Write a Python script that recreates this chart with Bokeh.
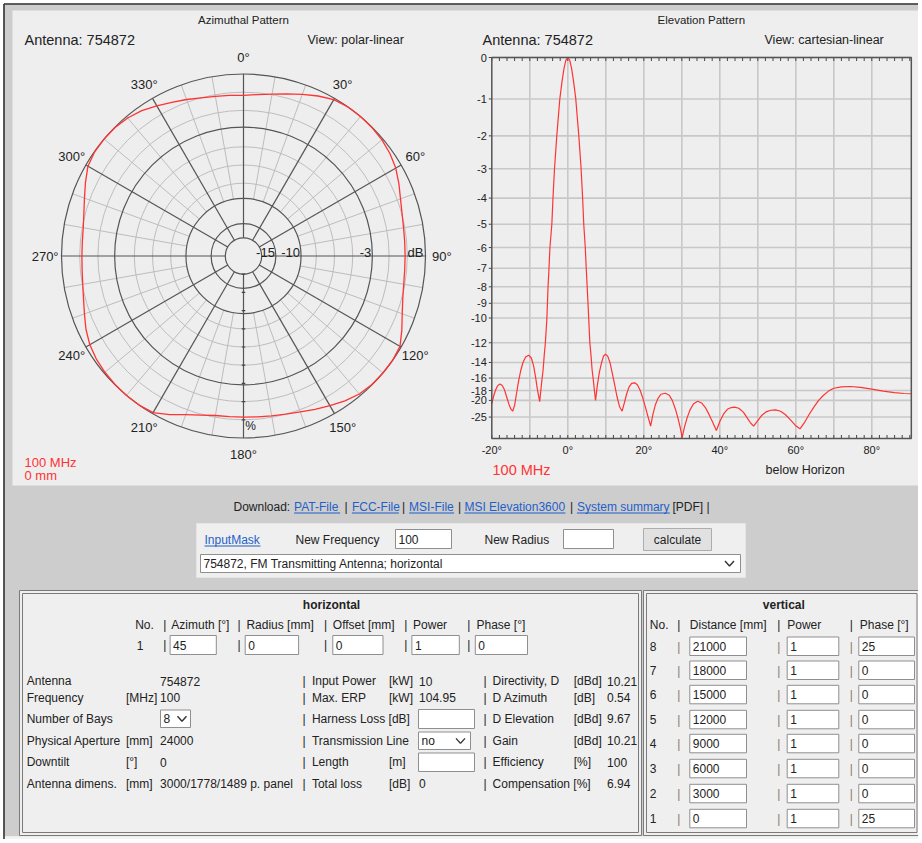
import numpy as np
from collections import defaultdict
from bokeh.plotting import figure
from bokeh.models import Range1d
from bokeh.embed import file_html
from bokeh.resources import INLINE
from bokeh.core.properties import value

FONT = "Liberation Sans"
PANEL = "#eeeeee"
GRAY = "#cdcdcd"
RED = "#ff3333"
LINK = "#1f5fc8"
INK = "#222222"

# ---------------- data: azimuthal pattern (relative field, linear) ----------------
az_angle = list(range(0, 361, 5))
az_field = [0.883, 0.89, 0.903, 0.922, 0.945, 0.97, 0.992, 1.0, 1.0, 0.998, 0.993, 0.982, 0.966,
            0.942, 0.918, 0.902, 0.893, 0.889, 0.888, 0.889, 0.894, 0.906, 0.928, 0.96, 0.993,
            1.0, 1.0, 0.998, 0.99, 0.972, 0.95, 0.93, 0.912, 0.9, 0.892, 0.887, 0.885, 0.886,
            0.89, 0.905, 0.928, 0.962, 0.994, 1.0, 1.0, 0.998, 0.994, 0.987, 0.975, 0.955, 0.93,
            0.91, 0.897, 0.89, 0.888, 0.889, 0.894, 0.908, 0.93, 0.958, 0.987, 0.998, 1.0, 0.998,
            0.99, 0.975, 0.953, 0.932, 0.915, 0.9, 0.891, 0.886, 0.883]

# polar grid
ring_db = [-20, -15, -10, -3, 0]
ring_label_db = [-15, -10, -3]
light_ring_pct = [40, 50, 60, 80, 90]
pct_ticks = [10, 20, 30, 40, 50, 60, 70, 80, 90]
angle_ticks = list(range(0, 360, 30))
minor_spokes = [a for a in range(0, 360, 10) if a % 30]

# ---------------- data: elevation pattern (deg below horizon, dB) ----------------
el_deg = [-20.0, -19.5, -19.0, -18.5, -17.9, -17.3, -16.7, -16.1, -15.5, -15.0, -14.5, -14.0, -13.5,
          -13.0, -12.4, -11.8, -11.1, -10.3, -9.6, -9.0, -8.5, -8.0, -7.4,
          -7.1, -6.8, -6.5, -6.2, -5.9, -5.5, -5.2, -4.95, -4.7, -4.2, -3.9, -3.5, -2.9, -2.1,
          -1.5, -1.0, -0.5, 0.0, 0.5, 1.0, 1.5, 2.1, 2.9, 3.5, 3.9, 4.2, 4.6, 4.85, 5.1, 5.5,
          5.8, 6.1, 6.4, 6.7, 7.0, 7.3,
          7.8, 8.3, 8.9, 9.4, 9.9, 10.5, 11.1, 11.7, 12.3, 12.9, 13.6, 14.3, 14.9, 15.5, 16.1,
          16.8, 17.6, 18.3, 19.0, 19.7, 20.4, 21.1, 21.8, 22.4, 23.0, 23.7, 24.5, 25.7, 26.7,
          27.5, 28.3, 29.0, 29.6, 30.1, 30.7, 31.4, 32.2, 33.1, 34.2, 35.2, 36.2, 37.1, 38.1,
          39.1, 40.0, 41.0, 42.0, 43.0, 43.9, 45.0, 46.2, 47.2, 48.1, 48.9, 49.9, 51.0, 52.2,
          53.4, 54.7, 56.0, 57.3, 58.6, 59.9, 61.1, 62.3, 63.5, 64.8, 66.0, 67.3, 68.6, 70.0,
          72.0, 74.4, 77.0, 80.0, 83.0, 86.0, 88.5, 90.4]
el_db = [-20.8, -19.0, -17.9, -17.2, -16.9, -17.1, -17.8, -19.2, -20.9, -22.2, -22.9, -21.2, -18.6,
         -16.6, -15.0, -14.0, -13.4, -13.2, -13.5, -14.4, -15.8, -17.8, -20.3,
         -18.0, -16.2, -14.9, -13.2, -12.0, -10.0, -8.0, -7.0, -6.0, -5.0, -4.0, -3.0, -2.0, -1.0,
         -0.55, -0.25, -0.06, 0.0, -0.06, -0.25, -0.55, -1.0, -2.0, -3.0, -4.0, -5.0, -6.0, -7.0, -8.0, -10.0,
         -12.0, -13.2, -14.9, -16.2, -18.0, -20.0,
         -17.0, -15.2, -14.0, -13.3, -13.1, -13.3, -14.0, -15.3, -16.9, -19.0, -21.5, -22.9, -20.5, -18.6, -17.4,
         -16.8, -16.7, -17.0, -17.9, -19.4, -21.6, -24.8, -29.8, -24.0, -21.2, -19.6, -18.7, -18.5, -18.9,
         -20.0, -22.2, -25.5, -31.0, -50.0, -30.5, -25.3, -22.4, -20.8, -20.2, -20.6, -21.8, -23.8, -27.3,
         -33.6, -27.0, -23.8, -22.3, -21.8, -21.7, -22.0, -23.2, -25.3, -27.8, -29.8, -26.8, -24.4, -23.1,
         -22.6, -22.5, -22.9, -24.1, -26.2, -29.3, -31.9, -27.5, -24.0, -21.6, -20.0, -18.9, -18.1, -17.6,
         -17.35, -17.3, -17.45, -17.75, -18.1, -18.4, -18.55, -18.6]
el_ytick_db = [0, -1, -2, -3, -4, -5, -6, -7, -8, -9, -10, -12, -14, -16, -18, -20, -25]
el_xgrid = list(range(-20, 91, 10))
el_xlabels = [-20, 0, 20, 40, 60, 80]
el_xminor = list(range(-20, 91, 2))

# ---------------- data: form values ----------------
download_items = [("Download:", 233.0, False), ("PAT-File", 293.6, True), ("|", 344.0, False),
                  ("FCC-File", 351.4, True), ("|", 401.5, False), ("MSI-File", 408.6, True),
                  ("|", 457.5, False), ("MSI Elevation3600", 463.9, True), ("|", 569.5, False),
                  ("System summary", 576.4, True), ("[PDF] |", 672.0, False)]
link_widths = {"PAT-File": 46, "FCC-File": 47, "MSI-File": 45, "MSI Elevation3600": 101, "System summary": 93}
new_frequency = "100"
antenna_choice = "754872, FM Transmitting Antenna; horizontal"

h_headers = ["No.", "Azimuth [°]", "Radius [mm]", "Offset [mm]", "Power", "Phase [°]"]
h_values = ["45", "0", "0", "1", "0"]

c1_labels = ["Antenna", "Frequency", "Number of Bays", "Physical Aperture", "Downtilt", "Antenna dimens."]
c1_units = ["", "[MHz]", "", "[mm]", "[°]", "[mm]"]
c1_values = ["754872", "100", None, "24000", "0", "3000/1778/1489 p. panel"]
number_of_bays = "8"
c2_labels = ["Input Power", "Max. ERP", "Harness Loss [dB]", "Transmission Line", "Length", "Total loss"]
c2_units = ["[kW]", "[kW]", "", "", "[m]", "[dB]"]
c2_values = ["10", "104.95", None, None, None, "0"]
transmission_line = "no"
c3_labels = ["Directivity, D", "D Azimuth", "D Elevation", "Gain", "Efficiency", "Compensation [%]"]
c3_units = ["[dBd]", "[dB]", "[dBd]", "[dBd]", "[%]", ""]
c3_values = ["10.21", "0.54", "9.67", "10.21", "100", "6.94"]

v_headers = ["No.", "Distance [mm]", "Power", "Phase [°]"]
v_no = [8, 7, 6, 5, 4, 3, 2, 1]
v_distance = [21000, 18000, 15000, 12000, 9000, 6000, 3000, 0]
v_power = [1, 1, 1, 1, 1, 1, 1, 1]
v_phase = [25, 0, 0, 0, 0, 0, 0, 25]

# ---------------- page geometry (screen pixels) ----------------
W, H = 918, 839
R, CX, CY = 182.0, 243.0, 255.5          # polar chart centre / radius
EX0, EPX = 567.3, 3.8                     # elevation: x of 0 deg, px per degree
EY0, EPY = 438.0, 381.0                   # elevation: y of zero field, px per unit field

p = figure(width=W, height=H, output_backend="svg", toolbar_location=None,
           x_range=Range1d(0, W), y_range=Range1d(H, 0),
           x_axis_location=None, y_axis_location=None, min_border=0,
           background_fill_color="white", border_fill_color="white", outline_line_color=None)
p.extra_x_ranges = {"pol": Range1d(-CX / R, (W - CX) / R),
                    "el": Range1d(-EX0 / EPX, (W - EX0) / EPX)}
p.extra_y_ranges = {"pol": Range1d((CY - H) / R, CY / R),
                    "el": Range1d((EY0 - H) / EPY, EY0 / EPY)}
p.grid.grid_line_color = None
POL = dict(x_range_name="pol", y_range_name="pol")
EL = dict(x_range_name="el", y_range_name="el")

# ---- page background ----
p.quad(left=[3], right=[W], top=[3], bottom=[836], fill_color=GRAY, line_color=None)
p.quad(left=[3], right=[W], top=[836], bottom=[H], fill_color="#f3f3f3", line_color=None)
p.segment(x0=[3.5, 3.5], y0=[3.5, 3.5], x1=[3.5, W], y1=[H, 3.5], line_color="#333333", line_width=1.6)
p.quad(left=[12], right=[W], top=[10], bottom=[485], fill_color=PANEL, line_color=None)

# =============================== polar (azimuth) ===============================
th_minor = np.radians(minor_spokes)
r_in = 10 ** (-10 / 20)
p.segment(x0=r_in * np.sin(th_minor), y0=r_in * np.cos(th_minor), x1=np.sin(th_minor), y1=np.cos(th_minor),
          line_color="#bdbdbd", line_width=1, **POL)
p.circle(x=[0] * len(light_ring_pct), y=[0] * len(light_ring_pct),
         radius=[q / 100 for q in light_ring_pct], fill_color=None, line_color="#bdbdbd", line_width=1, **POL)
th_major = np.radians(angle_ticks)
r_c = 10 ** (-20 / 20)
p.segment(x0=r_c * np.sin(th_major), y0=r_c * np.cos(th_major), x1=np.sin(th_major), y1=np.cos(th_major),
          line_color="#555555", line_width=1.2, **POL)
p.circle(x=[0] * len(ring_db), y=[0] * len(ring_db), radius=[10 ** (d / 20) for d in ring_db],
         fill_color=None, line_color="#555555", line_width=1.2, **POL)
p.segment(x0=[-1.8 / R] * len(pct_ticks), x1=[1.8 / R] * len(pct_ticks),
          y0=[-q / 100 for q in pct_ticks], y1=[-q / 100 for q in pct_ticks],
          line_color="#444444", line_width=1.2, **POL)

th = np.radians(az_angle)
f = np.array(az_field)
p.line(f * np.sin(th), f * np.cos(th), line_color=RED, line_width=1.3, **POL)

p.text(x=[1.09 * np.sin(np.radians(a)) for a in angle_ticks], y=[1.09 * np.cos(np.radians(a)) for a in angle_ticks],
       text=[f"{a}°" for a in angle_ticks], text_align="center", text_baseline="middle",
       text_font=value(FONT), text_font_size="13px", text_color=INK, **POL)
p.text(x=[10 ** (d / 20) - 1 / R for d in ring_label_db] + [1.0 - 2 / R],
       y=[3.5 / R] * (len(ring_label_db) + 1),
       text=[str(d) for d in ring_label_db] + ["dB"], text_align="right", text_baseline="alphabetic",
       text_font=value(FONT), text_font_size="13px", text_color=INK, **POL)
p.text(x=[7 / R], y=[-0.935], text=["%"], text_align="center", text_baseline="middle",
       text_font=value(FONT), text_font_size="12px", text_color=INK, **POL)

# =============================== elevation ===============================
y_ticks = [10 ** (d / 20) for d in el_ytick_db]
x_lo, x_hi = el_xgrid[0], 90.4
p.segment(x0=el_xgrid[1:-1], x1=el_xgrid[1:-1], y0=[0] * (len(el_xgrid) - 2), y1=[1] * (len(el_xgrid) - 2),
          line_color="#c8c8c8", line_width=1.6, **EL)
p.segment(x0=[x_lo] * len(y_ticks), x1=[x_hi] * len(y_ticks), y0=y_ticks, y1=y_ticks,
          line_color="#c8c8c8", line_width=1.6, **EL)
tb = 3.5 / EPY
p.segment(x0=el_xminor, x1=el_xminor, y0=[0] * len(el_xminor), y1=[tb] * len(el_xminor),
          line_color="#444444", line_width=1, **EL)
p.segment(x0=el_xminor, x1=el_xminor, y0=[1] * len(el_xminor), y1=[1 - tb] * len(el_xminor),
          line_color="#444444", line_width=1, **EL)
p.segment(x0=[x_lo - 3 / EPX] * len(y_ticks), x1=[x_lo] * len(y_ticks), y0=y_ticks, y1=y_ticks,
          line_color="#444444", line_width=1, **EL)
p.line(el_deg, [10 ** (d / 20) for d in el_db], line_color=RED, line_width=1.2, **EL)
p.quad(left=[x_lo], right=[x_hi], bottom=[0], top=[1], fill_color=None, line_color="#555555",
       line_width=1.5, **EL)
p.text(x=[x_lo - 5 / EPX] * len(y_ticks), y=y_ticks, text=[str(d) for d in el_ytick_db],
       text_align="right", text_baseline="middle", text_font=value(FONT), text_font_size="11px",
       text_color=INK, **EL)
p.text(x=el_xlabels, y=[-11 / EPY] * len(el_xlabels), text=[f"{t}°" for t in el_xlabels],
       text_align="center", text_baseline="middle", text_font=value(FONT), text_font_size="11px",
       text_color=INK, **EL)

# =============================== texts and form ===============================
texts = defaultdict(lambda: {"x": [], "y": [], "text": []})


def T(x, y, s, color=INK, bold=False, size="12px", align="left"):
    d = texts[(color, bold, size, align)]
    d["x"].append(x)
    d["y"].append(y)
    d["text"].append(s)


T(243, 19, "Azimuthal Pattern", size="11.5px", align="center")
T(24, 39, "Antenna: 754872", size="14.5px")
T(307, 39, "View: polar-linear", size="12.5px")
T(24, 461.5, "100 MHz", color=RED, size="13px")
T(24, 475, "0 mm", color=RED, size="13px")
T(700.8, 19, "Elevation Pattern", size="11.5px", align="center")
T(482, 39, "Antenna: 754872", size="14.5px")
T(764, 39, "View: cartesian-linear", size="12.5px")
T(492, 469, "100 MHz", color=RED, size="14.5px")
T(765, 469, "below Horizon", size="12.5px")

boxes = {"left": [], "right": [], "top": [], "bottom": []}


def BOX(l, r, t, b):
    boxes["left"].append(l)
    boxes["right"].append(r)
    boxes["top"].append(t)
    boxes["bottom"].append(b)


chev_x, chev_y = [], []


def CHEV(cx, cy):
    chev_x.append([cx - 4.5, cx, cx + 4.5])
    chev_y.append([cy - 2.5, cy + 2.5, cy - 2.5])


ul = {"x0": [], "x1": [], "y": []}
for s, x, is_link in download_items:
    T(x, 506, s, color=LINK if is_link else INK)
    if is_link:
        ul["x0"].append(x)
        ul["x1"].append(x + link_widths[s])
        ul["y"].append(512.5)

# input panel
p.quad(left=[196], right=[745], top=[523], bottom=[577], fill_color="#efefef", line_color="#e4e4e4")
T(204, 539, "InputMask", color=LINK)
ul["x0"].append(204)
ul["x1"].append(260)
ul["y"].append(545.5)
T(295, 539, "New Frequency")
BOX(395, 451, 529, 548)
T(398, 538.5, new_frequency)
T(484, 539, "New Radius")
BOX(563, 613, 529, 548)
p.quad(left=[643], right=[711], top=[528], bottom=[550], fill_color="#e1e1e1", line_color="#adadad")
T(677, 539, "calculate", align="center")
BOX(200, 740, 554, 572)
T(203, 563, antenna_choice)
CHEV(729, 563)

# horizontal panel
p.quad(left=[19], right=[641], top=[590], bottom=[835], fill_color="#efefef", line_color="#7a7a7a")
p.quad(left=[22], right=[638], top=[593], bottom=[832], fill_color="#efefef", line_color="#7a7a7a")
T(331, 604.5, "horizontal", bold=True, align="center")
h_x = [134.7, 170.8, 245.9, 332.3, 412.6, 476.0]
h_pipes = [162.8, 237.1, 323.4, 403.8, 466.8]
for x, s in zip(h_x, h_headers):
    T(x, 624.3, s)
for x in h_pipes:
    T(x, 624.3, "|")
    T(x, 644.5, "|")
T(136.3, 644.5, "1")
h_box = [(169.6, 215.8), (244.7, 298.1), (332.3, 382.5), (411.4, 458.8), (474.8, 527.0)]
for (l, r), s in zip(h_box, h_values):
    BOX(l, r, 635, 654)
    T(l + 3, 644.5, s)

row_y = [680.6, 697.4, 718.2, 740.4, 761.8, 783.0]
for i, y in enumerate(row_y):
    T(26.2, y, c1_labels[i])
    if c1_units[i]:
        T(125.4, y, c1_units[i])
    if c1_values[i] is not None:
        T(159.6, y, c1_values[i])
    T(302.1, y, "|")
    T(311.4, y, c2_labels[i])
    if c2_units[i]:
        T(388.5, y, c2_units[i])
    if c2_values[i] is not None:
        T(418.6, y, c2_values[i])
    T(482.9, y, "|")
    T(492.1, y, c3_labels[i])
    if c3_units[i]:
        T(573.2, y, c3_units[i])
    T(606.6, y, c3_values[i])
BOX(160, 190, 709.5, 727)
T(163, 718.2, number_of_bays)
CHEV(181.5, 718.2)
BOX(418, 474, 709, 728)
BOX(418, 470, 731.5, 749)
T(421, 740.4, transmission_line)
CHEV(460, 740.4)
BOX(418, 474, 752.5, 771)

# vertical panel
p.quad(left=[643], right=[920], top=[590], bottom=[835], fill_color="#efefef", line_color="#7a7a7a")
p.quad(left=[646], right=[916.5], top=[593], bottom=[832], fill_color="#efefef", line_color="#7a7a7a")
T(783.3, 604.3, "vertical", bold=True, align="center")
v_x = [649.3, 689.3, 786.7, 859.3]
v_pipes = [676.7, 776.7, 849.3]
for x, s in zip(v_x, v_headers):
    T(x, 624, s)
for x in v_pipes:
    T(x, 624, "|")
v_row_y = [646.0, 670.0, 694.3, 719.3, 743.3, 768.3, 793.3, 818.3]
v_box = [(689.3, 746.0), (786.7, 838.3), (858.3, 914.0)]
for i, y in enumerate(v_row_y):
    T(649.3, y, str(v_no[i]))
    for x in v_pipes:
        T(x, y, "|", color="#8c7a66")
    for (l, r), s in zip(v_box, [v_distance[i], v_power[i], v_phase[i]]):
        BOX(l, r, y - 9.5, y + 9)
        T(l + 3, y, str(s))

p.quad(left=boxes["left"], right=boxes["right"], top=boxes["top"], bottom=boxes["bottom"],
       fill_color="white", line_color="#8f8f8f", line_width=1)
p.multi_line(xs=chev_x, ys=chev_y, line_color="#333333", line_width=1.4)
p.segment(x0=ul["x0"], x1=ul["x1"], y0=ul["y"], y1=ul["y"], line_color=LINK, line_width=1)

for (color, bold, size, align), d in texts.items():
    p.text(x=d["x"], y=d["y"], text=d["text"], text_color=color, text_align=align,
           text_baseline="middle", text_font=value(FONT), text_font_size=size,
           text_font_style="bold" if bold else "normal")

open("out.html", "w").write(file_html(p, INLINE))
